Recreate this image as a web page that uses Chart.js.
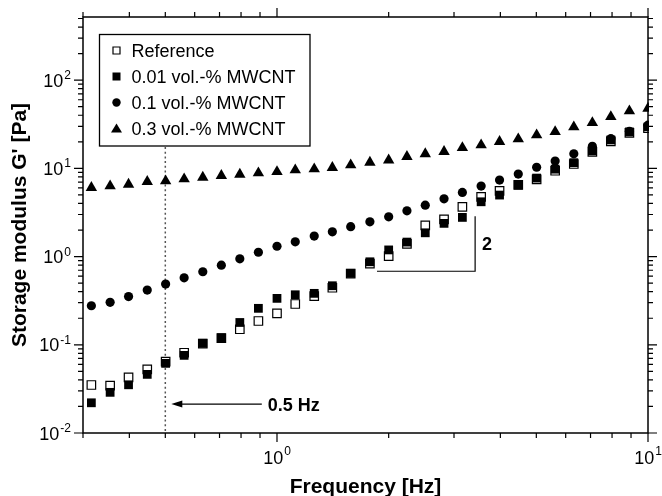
<!DOCTYPE html>
<html>
<head>
<meta charset="utf-8">
<script src="https://cdn.jsdelivr.net/npm/chart.js@4.4.1/dist/chart.umd.min.js"></script>
<style>
    html, body { margin: 0; padding: 0; background: #fff; }
    canvas { display: block; }
</style>
</head>
<body>
<canvas id="chart" width="662" height="496"></canvas>
<script>
// frequency sweep [Hz]
var frequency = [0.316, 0.355, 0.398, 0.447, 0.501, 0.562, 0.631, 0.708, 0.794, 0.891,
    1.0, 1.12, 1.26, 1.41, 1.58, 1.78, 2.0, 2.24, 2.51, 2.82,
    3.16, 3.55, 3.98, 4.47, 5.01, 5.62, 6.31, 7.08, 7.94, 8.91, 10.0];

// storage modulus G' [Pa]
var reference = [0.035, 0.0344, 0.0428, 0.0527, 0.0643, 0.0813, 0.103, 0.119, 0.150, 0.186,
    0.227, 0.290, 0.357, 0.443, 0.64, 0.83, 1.01, 1.39, 2.26, 2.64,
    3.66, 4.76, 5.57, 6.5, 7.50, 9.4, 11.2, 15.4, 20.2, 25.3, 28.5];
var mwcnt001 = [0.022, 0.0289, 0.0352, 0.0462, 0.0616, 0.0759, 0.104, 0.120, 0.179, 0.259,
    0.336, 0.369, 0.383, 0.467, 0.646, 0.873, 1.19, 1.46, 1.86, 2.38,
    2.78, 4.18, 4.98, 6.46, 7.76, 9.8, 11.6, 15.8, 21.0, 25.9, 29.5];
var mwcnt01 = [0.277, 0.303, 0.352, 0.417, 0.488, 0.575, 0.673, 0.80, 0.944, 1.12,
    1.31, 1.47, 1.71, 1.91, 2.18, 2.48, 2.82, 3.30, 3.83, 4.52,
    5.33, 6.30, 7.36, 8.61, 10.3, 12.1, 14.6, 17.8, 21.7, 26.3, 30.9];
var mwcnt03 = [6.04, 6.31, 6.58, 7.06, 7.19, 7.57, 7.90, 8.26, 8.54, 8.86,
    9.16, 9.57, 9.83, 10.2, 10.9, 11.7, 12.4, 13.6, 14.6, 15.5,
    17.1, 18.4, 20.1, 21.5, 23.9, 26.0, 29.4, 32.9, 38.5, 44.7, 47.8];

var seriesLabels = ['Reference', '0.01 vol.-% MWCNT', '0.1 vol.-% MWCNT', '0.3 vol.-% MWCNT'];

// decade tick labels (10^exp)
var xTickValues = [1, 10];
var xTickExps = ['0', '1'];
var yTickValues = [0.01, 0.1, 1, 10, 100];
var yTickExps = ['-2', '-1', '0', '1', '2'];

var FONT = '"Liberation Sans", Arial, Helvetica, sans-serif';

function points(arr) {
    return frequency.map(function(f, i) { return {x: f, y: arr[i]}; });
}

function minorTicks(min, max) {
    var out = [];
    var start = Math.floor(Math.log10(min));
    for (var e = start; Math.pow(10, e) <= max; e++) {
        for (var m = 1; m < 10; m++) {
            var v = m * Math.pow(10, e);
            if (v >= min * 0.999 && v <= max * 1.001) out.push({v: v, major: m === 1});
        }
    }
    return out;
}

function drawMarker(ctx, style, x, y) {
    ctx.save();
    ctx.beginPath();
    if (style === 'open') {
        ctx.fillStyle = '#fff';
        ctx.strokeStyle = '#000';
        ctx.lineWidth = 1.2;
        ctx.rect(x - 3.5, y - 3.5, 7, 7);
        ctx.fill();
        ctx.stroke();
    } else if (style === 'rect') {
        ctx.fillStyle = '#000';
        ctx.fillRect(x - 4, y - 4, 8, 8);
    } else if (style === 'circle') {
        ctx.fillStyle = '#000';
        ctx.arc(x, y, 4.2, 0, Math.PI * 2);
        ctx.fill();
    } else {
        ctx.fillStyle = '#000';
        ctx.moveTo(x, y - 5);
        ctx.lineTo(x + 5.5, y + 4);
        ctx.lineTo(x - 5.5, y + 4);
        ctx.closePath();
        ctx.fill();
    }
    ctx.restore();
}

var framePlugin = {
    id: 'frame',
    beforeDatasetsDraw: function(chart) {
        var ctx = chart.ctx, a = chart.chartArea;
        var x = chart.scales.x.getPixelForValue(0.5);
        ctx.save();
        ctx.strokeStyle = '#555';
        ctx.lineWidth = 1.5;
        ctx.setLineDash([2, 2.7]);
        ctx.beginPath();
        ctx.moveTo(x, 147);
        ctx.lineTo(x, a.bottom);
        ctx.stroke();
        ctx.restore();
    },
    afterDraw: function(chart) {
        var ctx = chart.ctx, a = chart.chartArea;
        var xs = chart.scales.x, ys = chart.scales.y;
        ctx.save();
        ctx.strokeStyle = '#000';
        ctx.fillStyle = '#000';

        // axes box
        ctx.lineWidth = 1.5;
        ctx.strokeRect(a.left, a.top, a.right - a.left, a.bottom - a.top);

        // ticks on all four sides, pointing outwards
        ctx.lineWidth = 1.2;
        ctx.beginPath();
        minorTicks(xs.min, xs.max).forEach(function(t) {
            var px = xs.getPixelForValue(t.v);
            var len = t.major ? 9 : 5;
            ctx.moveTo(px, a.bottom); ctx.lineTo(px, a.bottom + len);
            ctx.moveTo(px, a.top); ctx.lineTo(px, a.top - len);
        });
        minorTicks(ys.min, ys.max).forEach(function(t) {
            var py = ys.getPixelForValue(t.v);
            var len = t.major ? 9 : 5;
            ctx.moveTo(a.left, py); ctx.lineTo(a.left - len, py);
            ctx.moveTo(a.right, py); ctx.lineTo(a.right + len, py);
        });
        ctx.stroke();

        // tick labels 10^n
        ctx.textBaseline = 'alphabetic';
        ctx.textAlign = 'left';
        xTickValues.forEach(function(v, i) {
            var px = xs.getPixelForValue(v);
            ctx.font = '18px ' + FONT;
            var w1 = ctx.measureText('10').width;
            ctx.font = '12px ' + FONT;
            var w2 = ctx.measureText(xTickExps[i]).width;
            var x0 = px - (w1 + 1 + w2) / 2;
            ctx.font = '18px ' + FONT;
            ctx.fillText('10', x0, 464);
            ctx.font = '12px ' + FONT;
            ctx.fillText(xTickExps[i], x0 + w1 + 1, 455);
        });
        yTickValues.forEach(function(v, i) {
            var py = ys.getPixelForValue(v);
            ctx.font = '12px ' + FONT;
            var w2 = ctx.measureText(yTickExps[i]).width;
            ctx.font = '18px ' + FONT;
            var w1 = ctx.measureText('10').width;
            var right = a.left - 12;
            ctx.fillText('10', right - w2 - 1 - w1, py + 6.5);
            ctx.font = '12px ' + FONT;
            ctx.fillText(yTickExps[i], right - w2, py - 1);
        });

        // axis titles
        ctx.font = 'bold 21px ' + FONT;
        ctx.textAlign = 'center';
        ctx.fillText('Frequency [Hz]', (a.left + a.right) / 2, 493);
        ctx.save();
        ctx.translate(26, (a.top + a.bottom) / 2);
        ctx.rotate(-Math.PI / 2);
        ctx.fillText("Storage modulus G' [Pa]", 0, 0);
        ctx.restore();

        // arrow to 0.5 Hz
        var ay = ys.getPixelForValue(0.0213);
        var tipX = xs.getPixelForValue(0.5) + 6;
        var endX = xs.getPixelForValue(0.91);
        ctx.lineWidth = 1.2;
        ctx.beginPath();
        ctx.moveTo(tipX + 8, ay); ctx.lineTo(endX, ay);
        ctx.stroke();
        ctx.beginPath();
        ctx.moveTo(tipX, ay);
        ctx.lineTo(tipX + 11, ay - 3.5);
        ctx.lineTo(tipX + 11, ay + 3.5);
        ctx.closePath();
        ctx.fill();
        ctx.font = 'bold 18px ' + FONT;
        ctx.textAlign = 'left';
        ctx.fillText('0.5 Hz', endX + 6, ay + 6.5);

        // slope indicator
        var sx0 = xs.getPixelForValue(1.86), sx1 = xs.getPixelForValue(3.42);
        var sy0 = ys.getPixelForValue(0.682), sy1 = ys.getPixelForValue(2.87);
        ctx.lineWidth = 1.2;
        ctx.beginPath();
        ctx.moveTo(sx0, sy0); ctx.lineTo(sx1, sy0); ctx.lineTo(sx1, sy1);
        ctx.stroke();
        ctx.fillText('2', sx1 + 7, (sy0 + sy1) / 2 + 6.5);

        // legend box
        ctx.fillStyle = '#fff';
        ctx.fillRect(99.5, 34.5, 210.5, 111.5);
        ctx.lineWidth = 1.3;
        ctx.strokeRect(99.5, 34.5, 210.5, 111.5);
        ctx.fillStyle = '#000';
        ctx.font = '18px ' + FONT;
        var styles = ['open', 'rect', 'circle', 'triangle'];
        var baselines = [57, 83, 109, 135];
        seriesLabels.forEach(function(lbl, i) {
            drawMarker(ctx, styles[i], 116.5, baselines[i] - 6.5);
            ctx.fillText(lbl, 131.5, baselines[i]);
        });
        ctx.restore();
    }
};

var ctx = document.getElementById('chart').getContext('2d');
var chart = new Chart(ctx, {
    type: 'scatter',
    data: {
        datasets: [{
            label: seriesLabels[0],
            data: points(reference),
            pointStyle: 'rect',
            pointRadius: 6,
            backgroundColor: '#fff',
            borderColor: '#000',
            borderWidth: 1.2,
            order: 4,
            clip: 1
        }, {
            label: seriesLabels[1],
            data: points(mwcnt001),
            pointStyle: 'rect',
            pointRadius: 6.2,
            backgroundColor: '#000',
            borderColor: '#000',
            borderWidth: 0,
            order: 3,
            clip: 1
        }, {
            label: seriesLabels[2],
            data: points(mwcnt01),
            pointStyle: 'circle',
            pointRadius: 4.6,
            backgroundColor: '#000',
            borderColor: '#000',
            borderWidth: 0,
            order: 2,
            clip: 1
        }, {
            label: seriesLabels[3],
            data: points(mwcnt03),
            pointStyle: 'triangle',
            pointRadius: 6.6,
            backgroundColor: '#000',
            borderColor: '#000',
            borderWidth: 0,
            order: 1,
            clip: 1
        }]
    },
    options: {
        responsive: false,
        animation: false,
        events: [],
        layout: { padding: { left: 83, right: 14, top: 17, bottom: 63 } },
        plugins: { legend: { display: false }, tooltip: { enabled: false } },
        scales: {
            x: { type: 'logarithmic', min: 0.3, max: 10, display: false },
            y: { type: 'logarithmic', min: 0.01, max: 520, display: false }
        }
    },
    plugins: [framePlugin]
});
</script>
</body>
</html>
